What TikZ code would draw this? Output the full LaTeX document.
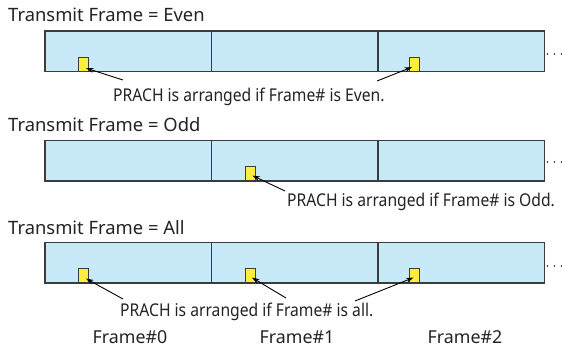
\documentclass[tikz,border=0pt]{standalone}
\usepackage{fontspec}
\setmainfont{Noto Sans}
\newfontfamily\condfont[FakeStretch=0.89]{Noto Sans}
\usetikzlibrary{arrows.meta}
\definecolor{barblue}{RGB}{200,233,248}
\definecolor{barline}{RGB}{60,60,60}
\definecolor{prachy}{RGB}{255,238,60}
\definecolor{txt}{RGB}{35,35,35}
\begin{document}
\begin{tikzpicture}[x=1pt,y=-1pt,
  cell/.style={draw=barline,fill=barblue,line width=1.1pt,minimum width=166.5pt,minimum height=40.5pt,inner sep=0pt,outer sep=0pt,anchor=north west},
  prach/.style={draw=barline,fill=prachy,line width=0.8pt,minimum width=10pt,minimum height=14pt,inner sep=0pt,anchor=south},
  lbl/.style={font=\fontsize{18.4}{20}\selectfont,text=txt,inner sep=0pt,anchor=west},
  clbl/.style={font=\condfont\fontsize{17.6}{20}\selectfont,text=txt,inner sep=0pt,anchor=west},
  flbl/.style={font=\fontsize{17.8}{20}\selectfont,text=txt,inner sep=0pt},
  arr/.style={-{Stealth[length=7.5pt,width=5pt]},line width=0.9pt,black},
  dot/.style={circle,fill=txt,inner sep=0pt,minimum size=1.7pt}]
\useasboundingbox (0,0) rectangle (562,349);
% titles
\node[lbl] (t1) at (8,15) {Transmit Frame = Even};
\node[lbl] (t2) at (8,125) {Transmit Frame = Odd};
\node[lbl] (t3) at (8,228) {Transmit Frame = All};
% row 1
\node[cell] (a0) at (45,31) {};
\node[cell] (a1) at (211.5,31) {};
\node[cell] (a2) at (378,31) {};
% row 2
\node[cell] (b0) at (45,140.5) {};
\node[cell] (b1) at (211.5,140.5) {};
\node[cell] (b2) at (378,140.5) {};
% row 3
\node[cell] (c0) at (45,242.5) {};
\node[cell] (c1) at (211.5,242.5) {};
\node[cell] (c2) at (378,242.5) {};
% PRACH squares
\node[prach] (pa0) at (83,71.5) {};
\node[prach] (pa2) at (414,71.5) {};
\node[prach] (pb1) at (250.5,181) {};
\node[prach] (pc0) at (83,283) {};
\node[prach] (pc1) at (250.5,283) {};
\node[prach] (pc2) at (414.5,283) {};
% dots
\foreach \r/\y in {a/54,b/162,c/266}{
  \node[dot] (\r d1) at (547.5,\y) {};
  \node[dot] (\r d2) at (554.5,\y) {};
  \node[dot] (\r d3) at (561.5,\y) {};
}
% labels
\node[clbl] (la) at (113,97) {PRACH is arranged if Frame\# is Even.};
\node[clbl] (lb) at (287,202) {PRACH is arranged if Frame\# is Odd.};
\node[clbl] (lc) at (120,312) {PRACH is arranged if Frame\# is all.};
% frame labels
\node[flbl] (f0) at (130,337) {Frame\#0};
\node[flbl] (f1) at (297,337) {Frame\#1};
\node[flbl] (f2) at (465,337) {Frame\#2};
% arrow tails
\coordinate (ta0) at (123,80);
\coordinate (ta2) at (377,81);
\coordinate (tb1) at (285,191);
\coordinate (tc0) at (123,299);
\coordinate (tc1) at (286,298);
\coordinate (tc2) at (355,301);
% arrows
\draw[arr] (ta0) -- ([xshift=3pt,yshift=-4pt]pa0.center);
\draw[arr] (ta2) -- ([xshift=-2pt,yshift=-3pt]pa2.center);
\draw[arr] (tb1) -- ([xshift=2pt,yshift=-2pt]pb1.center);
\draw[arr] (tc0) -- ([xshift=3pt,yshift=-3pt]pc0.center);
\draw[arr] (tc1) -- ([xshift=1.5pt,yshift=-2pt]pc1.center);
\draw[arr] (tc2) -- ([xshift=-1pt,yshift=-2pt]pc2.center);
\end{tikzpicture}
\end{document}
